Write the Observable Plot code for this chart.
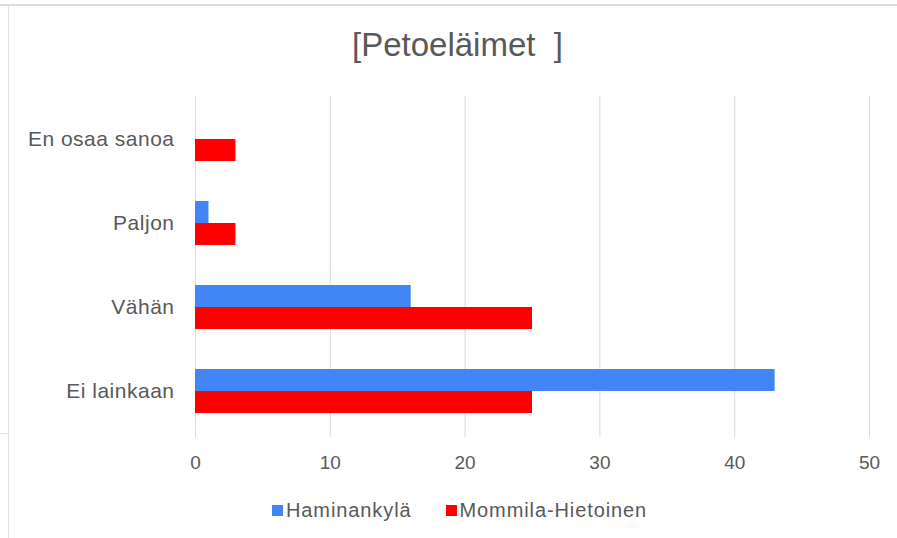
<!DOCTYPE html>
<html>
<head>
<meta charset="utf-8">
<script src="https://cdn.jsdelivr.net/npm/d3@7"></script>
<script src="https://cdn.jsdelivr.net/npm/@observablehq/plot@0.6"></script>
<style>
  html, body { margin: 0; padding: 0; background: #fff; }
  #wrap { position: relative; width: 897px; height: 538px; overflow: hidden; font-family: "Liberation Sans", Arial, sans-serif; color: #595959; }
  #frameTop { position: absolute; left: 0; top: 4px; width: 897px; height: 0; border-top: 2px solid #dcdcdc; }
  #frameLeft { position: absolute; left: 8px; top: 6px; width: 0; height: 532px; border-left: 1px solid #e2e2e2; }
  #frameStub { position: absolute; left: 0; top: 433px; width: 8px; height: 0; border-top: 1px solid #e2e2e2; }
  #title { position: absolute; left: 8px; width: 899px; top: 28px; line-height: 33px; font-size: 33px; text-align: center; color: #595959; white-space: pre; }
  #chart { position: absolute; left: 0; top: 80px; }
  #legend { position: absolute; top: 500px; left: 272px; font-size: 20px; line-height: 20px; letter-spacing: 0.9px; color: #595959; white-space: nowrap; }
  #legend .item { display: inline-block; position: relative; padding-left: 14px; }
  #legend .sw { position: absolute; left: 0; top: 5px; width: 11px; height: 11px; }
  #chart g[aria-label="y-axis tick label"] text { letter-spacing: 0.5px; }
</style>
</head>
<body>
<div id="wrap">
  <div id="frameTop"></div>
  <div id="frameLeft"></div>
  <div id="frameStub"></div>
  <div id="title"></div>
  <div id="chart"></div>
  <div id="legend"></div>
</div>
<script>
const titleText = "[Petoeläimet  ]";
const categories = ["En osaa sanoa", "Paljon", "Vähän", "Ei lainkaan"];
const seriesNames = ["Haminankylä", "Mommila-Hietoinen"];
const haminankyla = [0, 1, 16, 43];
const mommila = [3, 3, 25, 25];
const xTicks = [0, 10, 20, 30, 40, 50];
const colors = ["#4285f4", "#ff0000"];

const blueData = categories.map((c, i) => ({category: c, value: haminankyla[i]}));
const redData = categories.map((c, i) => ({category: c, value: mommila[i]}));

document.getElementById("title").textContent = titleText;

const chart = Plot.plot({
  width: 897,
  height: 400,
  marginLeft: 195,
  marginRight: 28,
  marginTop: 16,
  marginBottom: 47,
  style: {fontFamily: "'Liberation Sans', Arial, sans-serif", color: "#595959", background: "transparent", overflow: "visible"},
  x: {domain: [0, 50], ticks: xTicks},
  y: {domain: categories, paddingInner: 0.48, paddingOuter: 0.24},
  marks: [
    Plot.ruleX(xTicks, {stroke: "#d9d9d9", strokeWidth: 1, insetBottom: -4}),
    Plot.barX(blueData, {y: "category", x: "value", fill: colors[0], insetBottom: 22}),
    Plot.barX(redData, {y: "category", x: "value", fill: colors[1], insetTop: 22}),
    Plot.axisX({ticks: xTicks, tickSize: 0, tickPadding: 22, fontSize: 19, label: null, fill: "#595959"}),
    Plot.axisY({tickSize: 0, tickPadding: 21, fontSize: 21, label: null, fill: "#595959"})
  ]
});
document.getElementById("chart").appendChild(chart);

const legend = document.getElementById("legend");
seriesNames.forEach((name, i) => {
  const item = document.createElement("span");
  item.className = "item";
  if (i > 0) item.style.marginLeft = "34px";
  const sw = document.createElement("span");
  sw.className = "sw";
  sw.style.background = colors[i];
  item.appendChild(sw);
  item.appendChild(document.createTextNode(name));
  legend.appendChild(item);
});
</script>
</body>
</html>
